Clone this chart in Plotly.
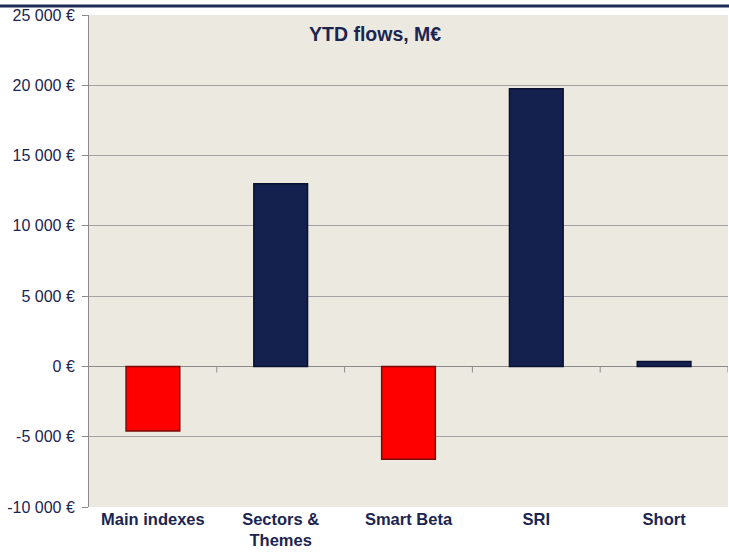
import plotly.graph_objects as go

categories = ["Main indexes", "Sectors &<br>Themes", "Smart Beta", "SRI", "Short"]
values = [-4600, 13000, -6600, 19750, 350]
tick_vals = [-10000, -5000, 0, 5000, 10000, 15000, 20000, 25000]
tick_text = ["-10 000 €", "-5 000 €", "0 €", "5 000 €", "10 000 €", "15 000 €", "20 000 €", "25 000 €"]
title_text = "YTD flows, M€"

navy = "#14214f"
red = "#ff0000"
colors = [red if v < 0 else navy for v in values]
edge = ["#7a0a0a" if v < 0 else "#0a1030" for v in values]
text_color = "#1b2550"
font_family = "Liberation Sans, Arial, sans-serif"

fig = go.Figure()
fig.add_trace(go.Bar(
    x=list(range(len(categories))),
    y=values,
    marker=dict(color=colors, line=dict(color=edge, width=1.5)),
    width=0.42,
    showlegend=False,
    hoverinfo="skip",
))

shapes = []
# category boundary ticks on the zero line
for i in range(len(categories)):
    shapes.append(dict(type="line", xref="x", yref="y", x0=i + 0.5, x1=i + 0.5,
                       ysizemode="pixel", yanchor=0, y0=0, y1=-6,
                       line=dict(color="#8a8a8a", width=1)))
# top decorative navy rule
shapes.append(dict(type="line", xref="paper", yref="paper", x0=-0.2, x1=1.1,
                   y0=1.0 + 9 / 492, y1=1.0 + 9 / 492, line=dict(color="#1f2a55", width=3)))

fig.update_layout(
    width=729, height=553,
    margin=dict(l=89, r=1, t=15, b=46, autoexpand=False),
    paper_bgcolor="white",
    plot_bgcolor="#eceae0",
    font=dict(family=font_family, size=16, color=text_color),
    shapes=shapes,
    annotations=[dict(text="<b>" + title_text + "</b>", xref="paper", yref="paper",
                      x=0.448, y=0.961, xanchor="center", yanchor="middle",
                      showarrow=False, font=dict(size=19.5, color=text_color, family=font_family))],
    xaxis=dict(
        tickmode="array",
        tickvals=list(range(len(categories))),
        ticktext=["<b>" + c + "</b>" for c in categories],
        range=[-0.5, len(categories) - 0.5],
        showgrid=False, zeroline=False,
        showline=False, ticks="",
        tickfont=dict(size=16.5, color=text_color, family=font_family),
    ),
    yaxis=dict(
        range=[-10000, 25000],
        tickmode="array", tickvals=tick_vals, ticktext=tick_text,
        showgrid=True, gridcolor="#a3a3a3", gridwidth=1,
        zeroline=True, zerolinecolor="#8a8a8a", zerolinewidth=1,
        showline=True, linecolor="#8a8a8a", linewidth=1,
        ticks="outside", ticklen=6, tickcolor="#8a8a8a",
        ticklabelstandoff=4,
        tickfont=dict(size=16, color=text_color, family=font_family),
    ),
)

fig.write_html("out.html", config={"displayModeBar": False},
               post_script="document.body.style.margin='0';document.body.style.overflow='hidden';")
